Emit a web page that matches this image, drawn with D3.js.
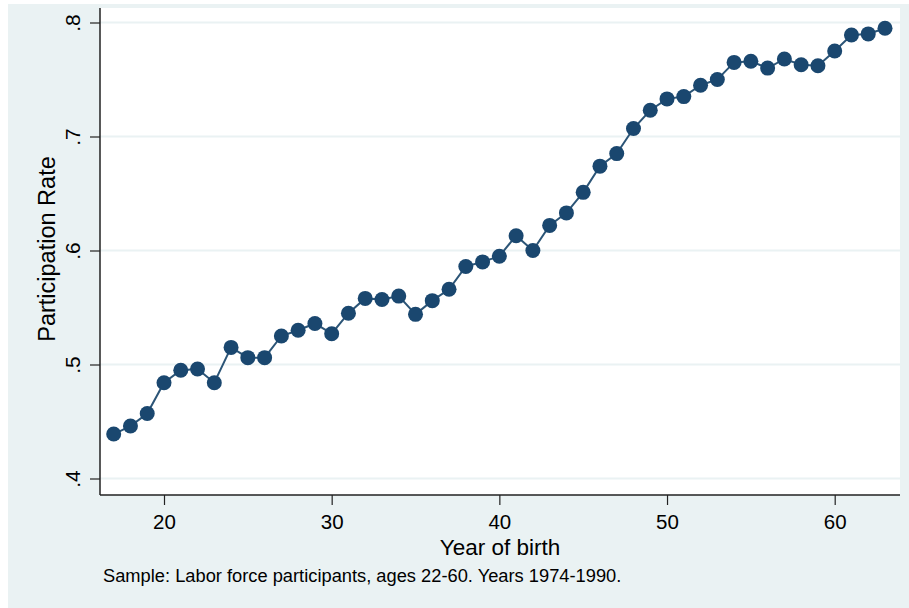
<!DOCTYPE html>
<html>
<head>
<meta charset="utf-8">
<script src="https://cdn.jsdelivr.net/npm/d3@7/dist/d3.min.js"></script>
<style>
    body { margin: 0; background: #fff; }
    svg { display: block; font-family: "Liberation Sans", Arial, sans-serif; }
</style>
</head>
<body>
<svg id="chart" width="909" height="608"></svg>
<script>
// birth years and participation rates
const years = [17, 18, 19, 20, 21, 22, 23, 24, 25, 26, 27, 28, 29, 30, 31, 32, 33, 34, 35, 36, 37, 38, 39, 40,
    41, 42, 43, 44, 45, 46, 47, 48, 49, 50, 51, 52, 53, 54, 55, 56, 57, 58, 59, 60, 61, 62, 63]
const rates = [.439, .446, .457, .484, .495, .496, .484, .515, .506, .506, .525, .530, .536, .527, .545, .558,
    .557, .560, .544, .556, .566, .586, .590, .595, .613, .600, .622, .633, .651, .674, .685, .707, .723, .733,
    .735, .745, .750, .765, .766, .760, .768, .763, .762, .775, .789, .790, .795]
const xTicks = [20, 30, 40, 50, 60]
const yTicks = [.4, .5, .6, .7, .8]
const yTickLabels = ['.4', '.5', '.6', '.7', '.8']

const svg = d3.select('#chart')
const navy = '#1a476f'
const bg = '#eaf2f3'

// outer graph region
svg.append('rect').attr('x', 8).attr('y', 4).attr('width', 901).attr('height', 604).attr('fill', bg)

const plot = { left: 100, right: 900, top: 8, bottom: 495 }
svg.append('rect')
    .attr('x', plot.left).attr('y', plot.top)
    .attr('width', plot.right - plot.left).attr('height', plot.bottom - plot.top)
    .attr('fill', '#fff')

const x = d3.scaleLinear().domain([20, 60]).range([164, 834.7])
const y = d3.scaleLinear().domain([.4, .8]).range([478.5, 22.5])

// gridlines
svg.append('g')
    .selectAll('line')
    .data(yTicks)
    .join('line')
    .attr('x1', plot.left).attr('x2', plot.right)
    .attr('y1', d => y(d)).attr('y2', d => y(d))
    .attr('stroke', bg).attr('stroke-width', 2)

// y axis
const yAxis = svg.append('g')
    .attr('transform', `translate(${plot.left},0)`)
    .call(d3.axisLeft(y).tickValues(yTicks).tickFormat((d, i) => yTickLabels[i]).tickSize(10).tickSizeOuter(0))
yAxis.select('.domain').remove()
yAxis.selectAll('.tick line').attr('stroke', '#222').attr('stroke-width', 1.2)
yAxis.selectAll('.tick text')
    .attr('x', 0).attr('dy', 0)
    .attr('transform', 'translate(-20,0) rotate(-90)')
    .attr('text-anchor', 'middle')
    .attr('font-size', 21).attr('fill', '#000')
svg.append('line')
    .attr('x1', plot.left).attr('x2', plot.left)
    .attr('y1', plot.top).attr('y2', plot.bottom)
    .attr('stroke', '#222').attr('stroke-width', 1.5)

// x axis
const xAxis = svg.append('g')
    .attr('transform', `translate(0,${plot.bottom})`)
    .call(d3.axisBottom(x).tickValues(xTicks).tickSize(10).tickSizeOuter(0))
xAxis.select('.domain').remove()
xAxis.selectAll('.tick line').attr('stroke', '#222').attr('stroke-width', 1.2)
xAxis.selectAll('.tick text').attr('y', 34).attr('dy', 0).attr('font-size', 20.5).attr('fill', '#000')
svg.append('line')
    .attr('x1', plot.left).attr('x2', plot.right)
    .attr('y1', plot.bottom).attr('y2', plot.bottom)
    .attr('stroke', '#222').attr('stroke-width', 1.5)

// series
const data = years.map((yr, i) => ({ yr, v: rates[i] }))
const line = d3.line().x(d => x(d.yr)).y(d => y(d.v))
svg.append('path')
    .datum(data)
    .attr('d', line)
    .attr('fill', 'none')
    .attr('stroke', '#2c5577')
    .attr('stroke-width', 2)

svg.append('g')
    .selectAll('circle')
    .data(data)
    .join('circle')
    .attr('cx', d => x(d.yr))
    .attr('cy', d => y(d.v))
    .attr('r', 7.5)
    .attr('fill', navy)

// titles
svg.append('text')
    .attr('x', 500).attr('y', 555)
    .attr('text-anchor', 'middle')
    .attr('font-size', 22.5)
    .text('Year of birth')

svg.append('text')
    .attr('transform', 'translate(55,249) rotate(-90)')
    .attr('text-anchor', 'middle')
    .attr('font-size', 23.5)
    .text('Participation Rate')

svg.append('text')
    .attr('x', 103).attr('y', 582)
    .attr('font-size', 18.3)
    .text('Sample: Labor force participants, ages 22-60. Years 1974-1990.')
</script>
</body>
</html>
